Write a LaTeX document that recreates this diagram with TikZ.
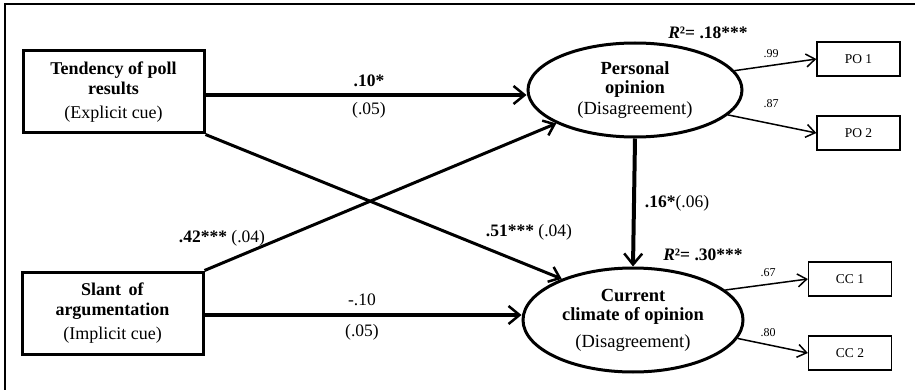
\documentclass[tikz,border=0pt]{standalone}
\usepackage{fontspec}
\setmainfont{Liberation Serif}
\usetikzlibrary{shapes.geometric,arrows.meta}

\begin{document}
\begin{tikzpicture}[x=1pt,y=-1pt,
  cue/.style={draw,line width=3pt,minimum width=181pt,minimum height=82pt,inner sep=0pt,align=center,font=\fontsize{18}{20}\selectfont},
  latent/.style={draw,ellipse,line width=3pt,inner sep=0pt,align=center,font=\fontsize{18.5}{19}\selectfont},
  item/.style={draw,line width=1.3pt,minimum width=83pt,minimum height=34pt,inner sep=0pt,font=\fontsize{13.5}{15}\selectfont},
  path/.style={line width=4pt,-{Straight Barb[length=11pt,width=18pt,line width=2.5pt]}},
  cross/.style={line width=3pt,-{Straight Barb[length=10pt,width=16pt,line width=2.5pt]}},
  load/.style={line width=1.5pt,-{Straight Barb[length=9pt,width=13pt,line width=1.5pt]}},
  coef/.style={inner sep=0pt,font=\fontsize{17.5}{19}\selectfont},
  small/.style={inner sep=0pt,font=\fontsize{12}{13}\selectfont}]
\useasboundingbox (0,0) rectangle (915,390);
\draw[line width=1.2pt] (5,390) -- (5,4) -- (915,4);

\node[cue] (tend) at (113.5,92) {\textbf{Tendency of poll}\\\textbf{results}\\[4pt](Explicit cue)};
\node[cue] (slant) at (112.5,313) {\textbf{Slant\, of}\\\textbf{argumentation}\\[4pt](Implicit cue)};
\node[latent,minimum width=214pt,minimum height=94pt] (po) at (635,90) {\textbf{Personal}\\\textbf{opinion}\\[2pt](Disagreement)};
\node[latent,minimum width=220pt,minimum height=104pt] (cc) at (633,320) {\textbf{Current}\\\textbf{climate of opinion}\\[8pt](Disagreement)};
\node[item] (po1) at (858.5,59) {PO 1};
\node[item] (po2) at (858.5,133) {PO 2};
\node[item] (cc1) at (850,279) {CC 1};
\node[item] (cc2) at (850,353) {CC 2};

\draw[path] ([yshift=-3pt]tend.east) -- ([yshift=-3pt]tend.east -| po.west);
\draw[path] ([yshift=-2pt]slant.east) -- ([yshift=-2pt]slant.east -| cc.west);
\draw[cross] (slant.north east) -- (po.203);
\draw[cross] (tend.south east) -- (cc.150);
\draw[path] (po.south) -- (cc.north);
\draw[load] (po.11) -- (po1.west);
\draw[load] (po.345) -- (po2.west);
\draw[load] (cc.18) -- (cc1.west);
\draw[load] (cc.350) -- (cc2.west);

\node[coef] (b1) at (369,81) {\textbf{.10*}};
\node[coef] (s1) at (369,110) {(.05)};
\node[coef] (b2) at (362,300) {-.10};
\node[coef] (s2) at (362,332) {(.05)};
\node[coef] (b3) at (222,238) {\textbf{.42***} (.04)};
\node[coef] (b4) at (529,232) {\textbf{.51***} (.04)};
\node[coef] (b5) at (677,203) {\textbf{.16*}(.06)};
\node[coef] (r1) at (708,33) {\textbf{\textit{R}²= .18***}};
\node[coef] (r2) at (703,255) {\textbf{\textit{R}²= .30***}};
\node[small] (l1) at (771,54) {.99};
\node[small] (l2) at (771,104) {.87};
\node[small] (l3) at (768,273) {.67};
\node[small] (l4) at (768,333) {.80};
\end{tikzpicture}
\end{document}
